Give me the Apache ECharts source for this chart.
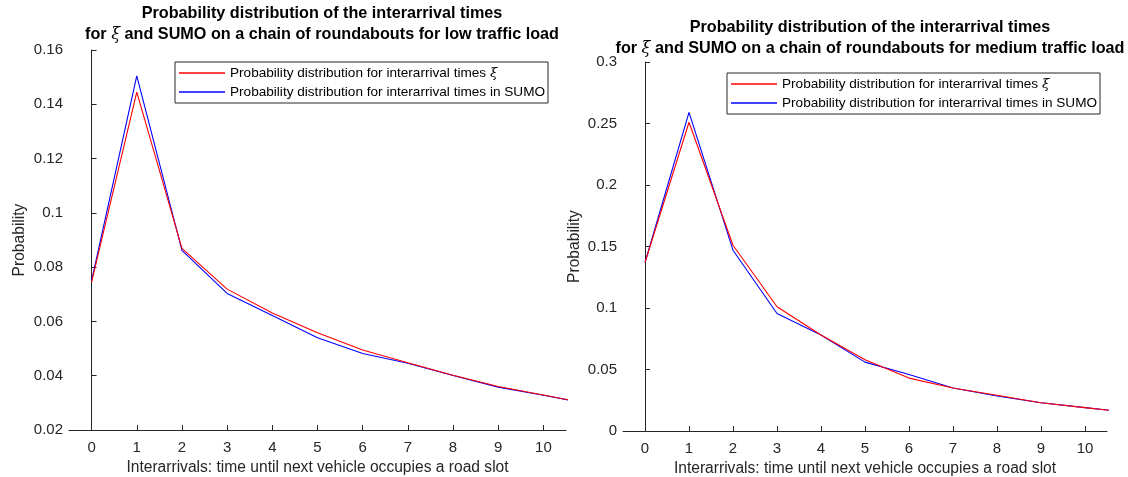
<!DOCTYPE html>
<html>
<head>
<meta charset="utf-8">
<script src="https://cdn.jsdelivr.net/npm/echarts@6/dist/echarts.min.js"></script>
<style>
html,body{margin:0;padding:0;background:#fff;}
#c{width:1128px;height:477px;}
</style>
</head>
<body>
<div id="c"></div>
<script>
// ---- data ----
var xValues = [0, 1, 2, 3, 4, 5, 6, 7, 8, 9, 10, 11];
var xTickLabels = [0, 1, 2, 3, 4, 5, 6, 7, 8, 9, 10];
var lowXi   = [0.0745, 0.1445, 0.0869, 0.0719, 0.0631, 0.0558, 0.0495, 0.0448, 0.0402, 0.0360, 0.0329, 0.0297];
var lowSumo = [0.0750, 0.1505, 0.0862, 0.0703, 0.0622, 0.0540, 0.0482, 0.0446, 0.0401, 0.0358, 0.0328, 0.0297];
var medXi   = [0.137, 0.251, 0.151, 0.101, 0.078, 0.058, 0.043, 0.035, 0.029, 0.023, 0.019, 0.015];
var medSumo = [0.137, 0.259, 0.147, 0.0955, 0.078, 0.056, 0.046, 0.035, 0.0285, 0.023, 0.019, 0.015];
var nameXi = 'Probability distribution for interarrival times \u03be';
var nameSumo = 'Probability distribution for interarrival times in SUMO';
var titleLine1 = 'Probability distribution of the interarrival times';
var titleLow = 'and SUMO on a chain of roundabouts for low traffic load';
var titleMed = 'and SUMO on a chain of roundabouts for medium traffic load';
var xName = 'Interarrivals: time until next vehicle occupies a road slot';
var yName = 'Probability';

function pairs(ys){ return xValues.map(function(x,i){ return [x, ys[i]]; }); }

var FONT = '"Liberation Sans", Arial, sans-serif';
var AX = '#262626';

function xAxis(gi){
  return {
    type:'value', gridIndex:gi, min:-0.5, max:10.5,
    name:xName, nameLocation:'middle', nameGap:29,
    nameTextStyle:{color:AX, fontFamily:FONT, fontSize:15.6},
    axisLine:{show:true, lineStyle:{color:AX, width:1}},
    axisTick:{show:true, inside:true, length:5, lineStyle:{color:AX}, customValues:xTickLabels},
    axisLabel:{color:AX, fontFamily:FONT, fontSize:15, margin:10, customValues:xTickLabels},
    splitLine:{show:false}
  };
}
function yAxis(gi, mn, mx, iv, gap){
  return {
    type:'value', gridIndex:gi, min:mn, max:mx, interval:iv,
    name:yName, nameLocation:'middle', nameGap:gap, nameRotate:90,
    nameTextStyle:{color:AX, fontFamily:FONT, fontSize:15.6},
    axisLine:{show:true, lineStyle:{color:AX, width:1}},
    axisTick:{show:true, inside:true, length:5, lineStyle:{color:AX}},
    axisLabel:{color:AX, fontFamily:FONT, fontSize:15, margin:6},
    splitLine:{show:false}
  };
}
function line(name, color, data, gi, z){
  return {
    type:'line', name:name, xAxisIndex:gi, yAxisIndex:gi, data:pairs(data),
    symbol:'none', smooth:false, z:z, animation:false,
    lineStyle:{color:color, width:1.1}, itemStyle:{color:color}
  };
}
function legendFmt(n){ return n.replace('\u03be','{i|\u03be}'); }
function legend(left, top){
  return {
    orient:'vertical', left:left, top:top,
    data:[nameXi, nameSumo],
    icon:'rect', itemWidth:46, itemHeight:1.3, itemGap:5,
    padding:[4,3,4,4],
    borderColor:AX, borderWidth:1, backgroundColor:'#fff',
    formatter:legendFmt,
    textStyle:{color:'#000', fontFamily:FONT, fontSize:13.6,
      rich:{i:{fontStyle:'italic', fontFamily:'"DejaVu Serif", serif', fontSize:13.6, color:'#000'}}}
  };
}
function title(cx, top, rest){
  return {
    left:cx, top:top, textAlign:'center',
    text:titleLine1 + '\nfor {i|\u03be} ' + rest,
    textStyle:{color:'#000', fontFamily:FONT, fontSize:16.2, fontWeight:'bold', lineHeight:21,
      rich:{i:{fontStyle:'italic', fontWeight:'normal', fontFamily:'"DejaVu Serif", serif', fontSize:16.2, color:'#000', lineHeight:21}}}
  };
}

var chart = echarts.init(document.getElementById('c'), null, {renderer:'canvas'});
chart.setOption({
  backgroundColor:'#fff',
  animation:false,
  title:[title(317, -2, titleLow), title(865, 12, titleMed)],
  legend:[legend(175, 62), legend(727, 73)],
  grid:[
    {left:69, top:50, width:497, height:380, containLabel:false, outerBoundsMode:'none'},
    {left:623, top:62, width:484, height:369, containLabel:false, outerBoundsMode:'none'}
  ],
  xAxis:[xAxis(0), xAxis(1)],
  yAxis:[yAxis(0, 0.02, 0.16, 0.02, 41), yAxis(1, 0, 0.3, 0.05, 40)],
  series:[
    line(nameSumo, '#0000ff', lowSumo, 0, 2),
    line(nameXi, '#ff0000', lowXi, 0, 3),
    line(nameSumo, '#0000ff', medSumo, 1, 2),
    line(nameXi, '#ff0000', medXi, 1, 3)
  ]
});
</script>
</body>
</html>
